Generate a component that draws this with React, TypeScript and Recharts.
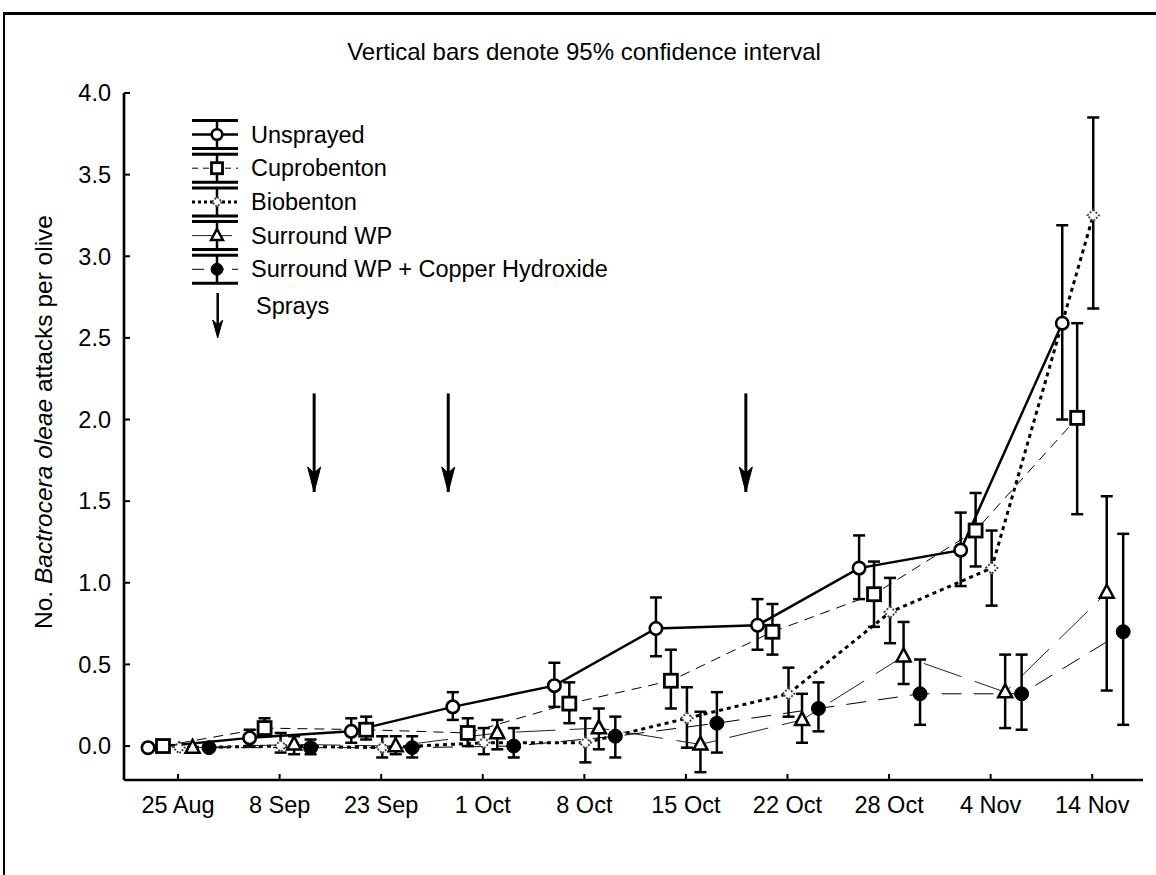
import React from 'react';
import { ComposedChart, Line, XAxis, YAxis, ErrorBar } from 'recharts';

// ---------- data ----------
const dates = ['25 Aug', '8 Sep', '23 Sep', '1 Oct', '8 Oct', '15 Oct', '22 Oct', '28 Oct', '4 Nov', '14 Nov'];
const seriesNames = ['Unsprayed', 'Cuprobenton', 'Biobenton', 'Surround WP', 'Surround WP + Copper Hydroxide'];

const unsprayedMean = [-0.01, 0.05, 0.09, 0.24, 0.37, 0.72, 0.74, 1.09, 1.2, 2.59];
const unsprayedLow = [null, 0.0, 0.02, 0.16, 0.24, 0.55, 0.59, 0.9, 0.98, 2.0];
const unsprayedHigh = [null, 0.1, 0.17, 0.33, 0.51, 0.91, 0.9, 1.29, 1.43, 3.19];

const cuproMean = [0.0, 0.11, 0.1, 0.08, 0.26, 0.4, 0.7, 0.93, 1.32, 2.01];
const cuproLow = [null, 0.06, 0.04, 0.0, 0.14, 0.23, 0.56, 0.73, 1.1, 1.42];
const cuproHigh = [null, 0.17, 0.18, 0.17, 0.39, 0.59, 0.87, 1.13, 1.55, 2.59];

const bioMean = [-0.01, 0.0, -0.01, 0.02, 0.02, 0.17, 0.32, 0.82, 1.09, 3.25];
const bioLow = [null, -0.04, -0.07, -0.05, -0.1, -0.01, 0.18, 0.63, 0.86, 2.68];
const bioHigh = [null, 0.08, 0.06, 0.11, 0.17, 0.36, 0.48, 1.03, 1.32, 3.85];

const surroundMean = [-0.01, 0.01, 0.0, 0.08, 0.11, 0.01, 0.16, 0.55, 0.33, 0.94];
const surroundLow = [null, -0.05, -0.05, -0.02, -0.02, -0.16, 0.02, 0.38, 0.11, 0.34];
const surroundHigh = [null, 0.06, 0.06, 0.16, 0.23, 0.21, 0.32, 0.76, 0.56, 1.53];

const copperMean = [-0.01, -0.01, -0.01, 0.0, 0.06, 0.14, 0.23, 0.32, 0.32, 0.7];
const copperLow = [null, -0.05, -0.07, -0.07, -0.07, -0.04, 0.09, 0.13, 0.1, 0.13];
const copperHigh = [null, 0.04, 0.06, 0.11, 0.18, 0.33, 0.39, 0.53, 0.56, 1.3];

// spray dates, in units of the sampling-date axis
const sprayDates = [1.34, 2.66, 5.59];
const sprayArrowFrom = 2.16;
const sprayArrowTo = 1.556;

const yTicks = [0, 0.5, 1, 1.5, 2, 2.5, 3, 3.5, 4];

// ---------- presentation ----------
const FONT = '"Liberation Sans", Arial, Helvetica, sans-serif';
const OFFSETS = [-0.295, -0.148, 0.01, 0.143, 0.305];
const X_DOMAIN: [number, number] = [-0.532, 9.5];
const Y_DOMAIN: [number, number] = [-0.208, 4.0];

type Pt = { x: number; y: number; err: [number, number] | null };

function build(mean: number[], low: (number | null)[], high: (number | null)[], offset: number): Pt[] {
  return mean.map((m, i) => {
    const lo = low[i];
    const hi = high[i];
    return {
      x: i + offset,
      y: m,
      err: lo == null || hi == null ? null : [m - lo, hi - m],
    };
  });
}

const seriesData = [
  build(unsprayedMean, unsprayedLow, unsprayedHigh, OFFSETS[0]),
  build(cuproMean, cuproLow, cuproHigh, OFFSETS[1]),
  build(bioMean, bioLow, bioHigh, OFFSETS[2]),
  build(surroundMean, surroundLow, surroundHigh, OFFSETS[3]),
  build(copperMean, copperLow, copperHigh, OFFSETS[4]),
];

// marker drawing, s = scale
function marker(kind: number, cx: number, cy: number, s: number, key?: any) {
  if (cx == null || cy == null) return <g key={key} />;
  switch (kind) {
    case 0:
      return <circle key={key} cx={cx} cy={cy} r={6.2 * s} fill="#fff" stroke="#000" strokeWidth={2.6} />;
    case 1:
      return (
        <rect key={key} x={cx - 6.5 * s} y={cy - 6.5 * s} width={13 * s} height={13 * s} fill="#fff" stroke="#000" strokeWidth={2.8} />
      );
    case 2: {
      const r = 5.8 * s;
      return (
        <polygon
          key={key}
          points={`${cx},${cy - r} ${cx + r},${cy} ${cx},${cy + r} ${cx - r},${cy}`}
          fill="#fff"
          stroke="#444"
          strokeWidth={1.9}
          strokeDasharray="2 1.5"
        />
      );
    }
    case 3: {
      const h = 13 * s;
      const w = 14 * s;
      return (
        <polygon
          key={key}
          points={`${cx},${cy - h * 0.6} ${cx + w / 2},${cy + h * 0.4} ${cx - w / 2},${cy + h * 0.4}`}
          fill="#fff"
          stroke="#000"
          strokeWidth={2.5}
          strokeLinejoin="miter"
        />
      );
    }
    default:
      return <circle key={key} cx={cx} cy={cy} r={7 * s} fill="#000" stroke="#000" strokeWidth={1} />;
  }
}

const lineStyles = [
  { stroke: '#000', strokeWidth: 2.5, strokeDasharray: undefined as string | undefined },
  { stroke: '#000', strokeWidth: 1, strokeDasharray: '10 7' },
  { stroke: '#000', strokeWidth: 3, strokeDasharray: '4 4' },
  { stroke: '#222', strokeWidth: 1, strokeDasharray: '40 14' },
  { stroke: '#000', strokeWidth: 1, strokeDasharray: '20 12' },
];

function arrowHead(cx: number, cy: number, w: number, len: number, notch: number, key?: any) {
  return (
    <path
      key={key}
      d={`M${cx},${cy} L${cx - w / 2},${cy - len} L${cx},${cy - len + notch} L${cx + w / 2},${cy - len} Z`}
      fill="#000"
      stroke="#000"
      strokeWidth={1}
    />
  );
}

function Legend() {
  const x0 = 192;
  const x1 = 238;
  const cxm = 217;
  const rows = seriesNames.map((name, i) => {
    const cy = 134.5 + i * 33.7;
    const st = lineStyles[i];
    return (
      <g key={name}>
        <line x1={x0} x2={x1} y1={cy - 14} y2={cy - 14} stroke="#000" strokeWidth={3} />
        <line x1={x0} x2={x1} y1={cy + 14} y2={cy + 14} stroke="#000" strokeWidth={3} />
        <line x1={cxm} x2={cxm} y1={cy - 14} y2={cy + 14} stroke="#000" strokeWidth={2.5} />
        <line
          x1={x0}
          x2={x1}
          y1={cy}
          y2={cy}
          stroke={st.stroke}
          strokeWidth={st.strokeWidth}
          strokeDasharray={i === 2 ? '3 3' : i === 1 ? '6 5' : i === 4 ? '12 8' : st.strokeDasharray}
        />
        {marker(i, cxm, cy, 0.85)}
        <text x={251} y={cy} dominantBaseline="central" fontSize={23.5} fontFamily={FONT} fill="#000">
          {name}
        </text>
      </g>
    );
  });
  return (
    <g>
      {rows}
      <line x1={217.7} x2={217.7} y1={293} y2={326} stroke="#000" strokeWidth={2.5} />
      {arrowHead(217.7, 338, 10, 18, 5)}
      <text x={256} y={306} dominantBaseline="central" fontSize={23.5} fontFamily={FONT} fill="#000">
        Sprays
      </text>
    </g>
  );
}

function Overlay() {
  return (
    <svg
      width={1156}
      height={875}
      style={{ position: 'absolute', left: 0, top: 0, pointerEvents: 'none' }}
    >
      <rect x={3} y={12} width={1153} height={3} fill="#000" />
      <rect x={3} y={12} width={2} height={863} fill="#000" />
      <text x={584} y={51} textAnchor="middle" dominantBaseline="central" fontSize={24} fontFamily={FONT} fill="#000">
        Vertical bars denote 95% confidence interval
      </text>
      <text
        x={43}
        y={422}
        transform="rotate(-90, 43, 422)"
        textAnchor="middle"
        dominantBaseline="central"
        fontSize={24.5}
        fontFamily={FONT}
        fill="#000"
      >
        No. <tspan fontStyle="italic">Bactrocera oleae</tspan> attacks per olive
      </text>
      <Legend />
    </svg>
  );
}

export default function App() {
  return (
    <div style={{ position: 'absolute', left: 0, top: 0, width: 1156, height: 875, background: '#fff' }}>
      <ComposedChart width={1156} height={875} margin={{ top: 93, right: 13, bottom: 55, left: 64 }}>
        <XAxis
          type="number"
          dataKey="x"
          domain={X_DOMAIN}
          allowDataOverflow
          ticks={dates.map((_, i) => i)}
          interval={0}
          tickFormatter={(v: number) => dates[Math.round(v)]}
          height={40}
          tickSize={-6}
          tickMargin={22}
          axisLine={{ stroke: '#000', strokeWidth: 2.7 }}
          tickLine={{ stroke: '#000', strokeWidth: 2 }}
          tick={{ fill: '#000', fontSize: 23.5, fontFamily: FONT }}
        />
        <YAxis
          type="number"
          domain={Y_DOMAIN}
          allowDataOverflow
          ticks={yTicks}
          interval={0}
          tickFormatter={(v: number) => v.toFixed(1)}
          width={60}
          tickSize={-6}
          tickMargin={19}
          axisLine={{ stroke: '#000', strokeWidth: 2.7 }}
          tickLine={{ stroke: '#000', strokeWidth: 2 }}
          tick={{ fill: '#000', fontSize: 23.5, fontFamily: FONT }}
        />
        <XAxis
          xAxisId="top"
          orientation="top"
          type="number"
          domain={X_DOMAIN}
          height={0}
          tick={false}
          tickLine={false}
          axisLine={{ stroke: '#000', strokeWidth: 2.7 }}
        />
        <YAxis
          yAxisId="right"
          orientation="right"
          type="number"
          domain={Y_DOMAIN}
          width={0}
          tick={false}
          tickLine={false}
          axisLine={{ stroke: '#000', strokeWidth: 2.7 }}
        />
        {seriesData.map((data, i) => (
          <Line
            key={seriesNames[i]}
            name={seriesNames[i]}
            data={data}
            dataKey="y"
            type="linear"
            isAnimationActive={false}
            stroke={lineStyles[i].stroke}
            strokeWidth={lineStyles[i].strokeWidth}
            strokeDasharray={lineStyles[i].strokeDasharray}
            dot={(p: any) => marker(i, p.cx, p.cy, 1, `${i}-${p.index}`)}
            activeDot={false}
          >
            <ErrorBar dataKey="err" direction="y" width={6} stroke="#000" strokeWidth={2.5} />
          </Line>
        ))}
        {sprayDates.map((s, k) => (
          <Line
            key={`spray-${k}`}
            data={[
              { x: s, y: sprayArrowFrom },
              { x: s, y: sprayArrowTo },
            ]}
            dataKey="y"
            type="linear"
            isAnimationActive={false}
            stroke="#000"
            strokeWidth={3}
            dot={(p: any) =>
              p.index === 1 ? arrowHead(p.cx, p.cy, 13, 25, 6, `a-${k}`) : <g key={`a0-${k}`} />
            }
            activeDot={false}
          />
        ))}
      </ComposedChart>
      <Overlay />
    </div>
  );
}
